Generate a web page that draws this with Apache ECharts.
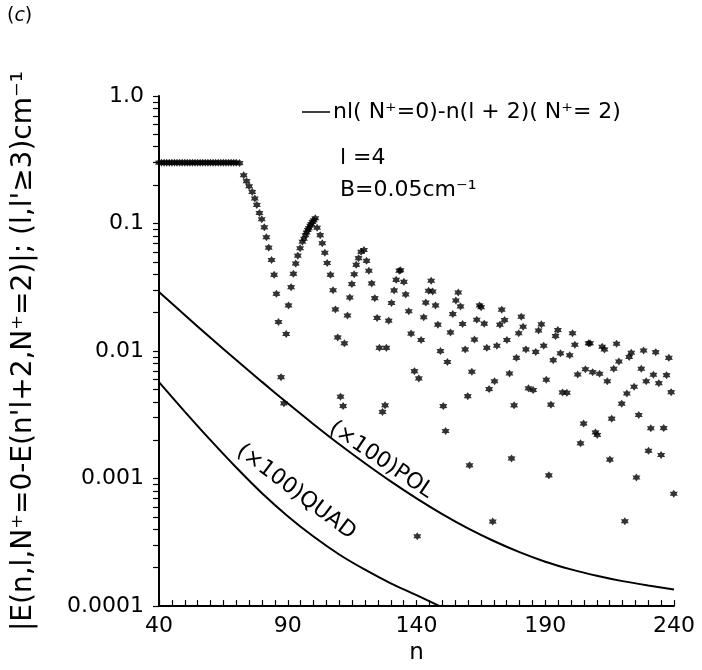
<!DOCTYPE html>
<html>
<head>
<meta charset="utf-8">
<script src="https://cdn.jsdelivr.net/npm/echarts@6/dist/echarts.min.js"></script>
<style>
  html, body { margin: 0; padding: 0; background: #fff; }
  #chart { width: 702px; height: 670px; }
</style>
</head>
<body>
<div id="chart"></div>
<script>
// star points: n and |dE| (cm-1)
const starN = [
  40, 41, 42, 43, 44, 45, 46, 47, 48, 49, 50, 51, 52, 53, 54, 55,
  56, 57, 58, 59, 60, 61, 62, 63, 64, 65, 66, 67, 68, 69, 70,
  71.3, 72.9, 74.0, 75.0, 76.2, 77.2, 78.0, 79.0, 79.9, 80.9, 81.7, 82.6, 83.7, 84.7, 85.6, 86.4, 87.4, 88.5,
  89.4, 90.3, 91.3, 92.2, 93.1, 93.9, 94.8, 95.7, 96.3, 96.9, 97.3, 97.8, 98.2, 98.7, 99.1, 99.6, 100.1, 100.7,
  101.4, 102.6, 103.4, 104.4, 105.3, 106.6, 107.6, 108.5, 109.4, 110.5, 111.5, 112.0,
  113.2, 114.1, 114.9, 115.8, 116.6, 117.5, 118.5, 119.6, 120.6, 121.5, 122.6, 123.8, 124.7, 125.6, 126.8, 127.8, 128.3,
  129.2, 130.3, 131.3, 132.1, 133.3, 133.8, 135.1, 135.8, 137.0, 137.9, 139.2, 140.3, 140.9, 141.8, 142.8, 143.6, 144.7, 145.7, 146.3,
  147.4, 148.3, 149.3, 150.4, 151.3, 152.0, 153.2, 154.1, 155.3, 156.2, 157.1, 157.9, 158.9, 159.9, 160.6,
  161.5, 162.5, 163.4, 164.5, 165.1, 166.3, 167.3, 168.2, 169.6, 170.3, 171.2, 172.4, 173.1, 174.2, 175.1, 176.1, 176.9, 177.9, 178.8, 179.7,
  180.7, 181.4, 182.5, 183.5, 185.3, 186.3, 187.4, 188.5, 189.4, 190.4, 191.4, 192.2, 193.1, 194.0, 194.9, 195.9, 196.7, 198.4,
  199.5, 200.6, 201.5, 202.6, 203.7, 204.9, 205.6, 206.8, 207.4, 208.4, 209.5, 210.2, 211.1, 212.1, 213.0, 214.1, 215.1, 215.8, 216.6, 217.7,
  218.6, 219.7, 220.9, 221.7, 222.6, 223.4, 224.5, 225.4, 226.3, 227.3, 228.2, 229.2, 230.1, 231.0, 232.0, 232.9, 234.1, 235.0, 236.0, 237.1, 238.0, 238.9, 239.9
]
const starE = [
  0.3, 0.3, 0.3, 0.3, 0.3, 0.3, 0.3, 0.3, 0.3, 0.3, 0.3, 0.3, 0.3, 0.3, 0.3, 0.3,
  0.3, 0.3, 0.3, 0.3, 0.3, 0.3, 0.3, 0.3, 0.3, 0.3, 0.3, 0.3, 0.3, 0.3, 0.3,
  0.298, 0.239, 0.215, 0.196, 0.177, 0.157, 0.140, 0.121, 0.108, 0.0934, 0.078, 0.0647, 0.0518, 0.0396, 0.0281, 0.0169, 0.00624, 0.00389,
  0.0136, 0.0228, 0.0317, 0.0403, 0.0485, 0.056, 0.064, 0.072, 0.076, 0.081, 0.085, 0.089, 0.092, 0.096, 0.099, 0.103, 0.106, 0.11,
  0.0927, 0.081, 0.070, 0.059, 0.049, 0.0396, 0.030, 0.0212, 0.0128, 0.00439, 0.0037, 0.0115,
  0.019, 0.0263, 0.0335, 0.040, 0.0474, 0.0535, 0.060, 0.062, 0.051, 0.0426, 0.0339, 0.026, 0.0182, 0.0106, 0.00333, 0.00375, 0.0106,
  0.0173, 0.0238, 0.0299, 0.0362, 0.0426, 0.043, 0.0349, 0.0278, 0.0205, 0.0137, 0.00695, 0.000353, 0.0061, 0.0122, 0.0184, 0.024, 0.0297, 0.0356, 0.0293,
  0.0228, 0.0161, 0.010, 0.0037, 0.00236, 0.0082, 0.014, 0.0195, 0.0249, 0.0288, 0.0224, 0.0163, 0.0103, 0.00443, 0.00127,
  0.00688, 0.0123, 0.0176, 0.0228, 0.0221, 0.0164, 0.0106, 0.00503, 0.00046, 0.0058, 0.011, 0.0161, 0.0211, 0.0175, 0.0122, 0.00667, 0.00144, 0.00375, 0.00885, 0.0138,
  0.0186, 0.0155, 0.0103, 0.0051, 0.00494, 0.00985, 0.0145, 0.0162, 0.011, 0.00596, 0.00106, 0.0038, 0.00848, 0.0131, 0.0146, 0.0096, 0.00474, 0.0047,
  0.00927, 0.0138, 0.0112, 0.00655, 0.00189, 0.0027, 0.0072, 0.0115, 0.0115, 0.00683, 0.0023, 0.0022, 0.00664, 0.0108, 0.0103, 0.0058, 0.00141, 0.00295, 0.00726, 0.0114,
  0.00828, 0.00387, 0.000463, 0.00465, 0.0090, 0.0097, 0.00525, 0.00102, 0.00315, 0.00726, 0.0101, 0.0058, 0.00165, 0.00248, 0.00652, 0.0098, 0.0056, 0.00153, 0.00249, 0.00647, 0.00885, 0.00476, 0.00076
]

// (x100) POL curve
const polN = [40, 50, 60, 70, 80, 90, 100, 110, 120, 130, 140, 150, 160, 170, 180, 190, 200, 210, 220, 230, 240]
const polE = [0.029, 0.0192, 0.0127, 0.00851, 0.00573, 0.00389, 0.00267, 0.00186, 0.00132, 0.000951, 0.0007,
  0.000527, 0.000407, 0.000324, 0.000265, 0.000223, 0.000194, 0.000173, 0.000157, 0.000145, 0.000135]

// (x100) QUAD curve
const quadN = [40, 50, 60, 70, 80, 90, 100, 110, 120, 130, 140, 149]
const quadE = [0.0057, 0.00335, 0.002, 0.00122, 0.000767, 0.000507, 0.000351, 0.000254, 0.000193, 0.000151, 0.000122, 0.0001]

const xLabelValues = [40, 90, 140, 190, 240]
const yLabelValues = [0.0001, 0.001, 0.01, 0.1, 1]
const yLabelText = ['0.0001', '0.001', '0.01', '0.1', '1.0']
const yMinorSteps = [1, 2, 3, 4, 5, 6, 7, 8, 9]

const FONT = 'DejaVu Sans'

// little asterisk used as the marker
function starPath() {
  let d = ''
  for (let k = 0; k < 12; k++) {
    const a = k * Math.PI / 6 - Math.PI / 2
    const r = k % 2 === 0 ? 10 : 6
    d += (k === 0 ? 'M' : 'L') + (r * Math.cos(a)).toFixed(2) + ',' + (r * Math.sin(a)).toFixed(2) + ' '
  }
  return 'path://' + d + 'Z'
}

const yTickValues = []
yLabelValues.slice(0, 4).forEach(dec => {
  yMinorSteps.forEach(m => yTickValues.push(+(dec * m).toPrecision(3)))
})
yTickValues.push(1)

function yLabel(v) {
  const i = yLabelValues.findIndex(t => Math.abs(Math.log10(t) - Math.log10(v)) < 0.01)
  return i >= 0 ? yLabelText[i] : ''
}

const chart = echarts.init(document.getElementById('chart'))
chart.setOption({
  backgroundColor: '#fff',
  animation: false,
  grid: { left: 159, right: 28, top: 96, bottom: 63 },
  xAxis: {
    type: 'value',
    min: 40,
    max: 240,
    interval: 5,
    name: 'n',
    nameLocation: 'middle',
    nameGap: 30,
    nameTextStyle: { color: '#000', fontSize: 23, fontFamily: FONT },
    axisLine: { onZero: false, lineStyle: { color: '#000', width: 2 } },
    axisTick: { inside: true, length: 6, lineStyle: { color: '#000', width: 1.2 } },
    axisLabel: {
      customValues: xLabelValues,
      margin: 9,
      color: '#000',
      fontSize: 22,
      fontFamily: FONT
    },
    splitLine: { show: false }
  },
  yAxis: {
    type: 'log',
    logBase: 10,
    min: 0.0001,
    max: 1,
    name: "|E(n,l,N\u207A=0-E(n'l+2,N\u207A=2)|; (l,l'\u22653)cm\u207B\u00B9",
    nameLocation: 'middle',
    nameRotate: 90,
    nameGap: 121,
    nameTextStyle: { color: '#000', fontSize: 28, fontFamily: FONT },
    axisLine: { show: true, onZero: false, lineStyle: { color: '#000', width: 2 } },
    axisTick: { show: true, inside: false, length: 6, customValues: yTickValues, lineStyle: { color: '#000', width: 1.2 } },
    axisLabel: {
      customValues: yLabelValues,
      formatter: yLabel,
      margin: 15,
      color: '#000',
      fontSize: 22,
      fontFamily: FONT
    },
    splitLine: { show: false }
  },
  series: [
    {
      type: 'scatter',
      data: starN.map((n, i) => [n, starE[i]]),
      symbol: starPath(),
      symbolSize: 8,
      itemStyle: { color: '#000' },
      silent: true
    },
    {
      type: 'line',
      data: polN.map((n, i) => [n, polE[i]]),
      smooth: 0.3,
      showSymbol: false,
      lineStyle: { color: '#000', width: 2 },
      silent: true
    },
    {
      type: 'line',
      data: quadN.map((n, i) => [n, quadE[i]]),
      smooth: 0.3,
      showSymbol: false,
      lineStyle: { color: '#000', width: 2 },
      silent: true
    }
  ],
  graphic: [
    {
      type: 'text', x: 7, y: 7,
      style: {
        text: '({i|c})',
        fill: '#000', fontSize: 19, fontFamily: FONT,
        rich: { i: { fontStyle: 'italic', fontSize: 19, fontFamily: FONT, fill: '#000' } }
      }
    },
    {
      type: 'line',
      shape: { x1: 302, y1: 112, x2: 330, y2: 112 },
      style: { stroke: '#000', lineWidth: 1.5 }
    },
    {
      type: 'text', x: 333, y: 112,
      style: { text: 'nl( N\u207A=0)-n(l + 2)( N\u207A= 2)', fill: '#000', fontSize: 22, fontFamily: FONT, verticalAlign: 'middle' }
    },
    {
      type: 'text', x: 340, y: 158,
      style: { text: 'l =4', fill: '#000', fontSize: 22, fontFamily: FONT, verticalAlign: 'middle' }
    },
    {
      type: 'text', x: 340, y: 190,
      style: { text: 'B=0.05cm\u207B\u00B9', fill: '#000', fontSize: 22, fontFamily: FONT, verticalAlign: 'middle' }
    },
    {
      type: 'text', x: 381, y: 460, rotation: -34 * Math.PI / 180,
      style: { text: '(\u00D7100)POL', fill: '#000', fontSize: 22, fontFamily: FONT, align: 'center', verticalAlign: 'middle' }
    },
    {
      type: 'text', x: 296, y: 492, rotation: -37 * Math.PI / 180,
      style: { text: '(\u00D7100)QUAD', fill: '#000', fontSize: 22, fontFamily: FONT, align: 'center', verticalAlign: 'middle' }
    }
  ]
})
</script>
</body>
</html>
